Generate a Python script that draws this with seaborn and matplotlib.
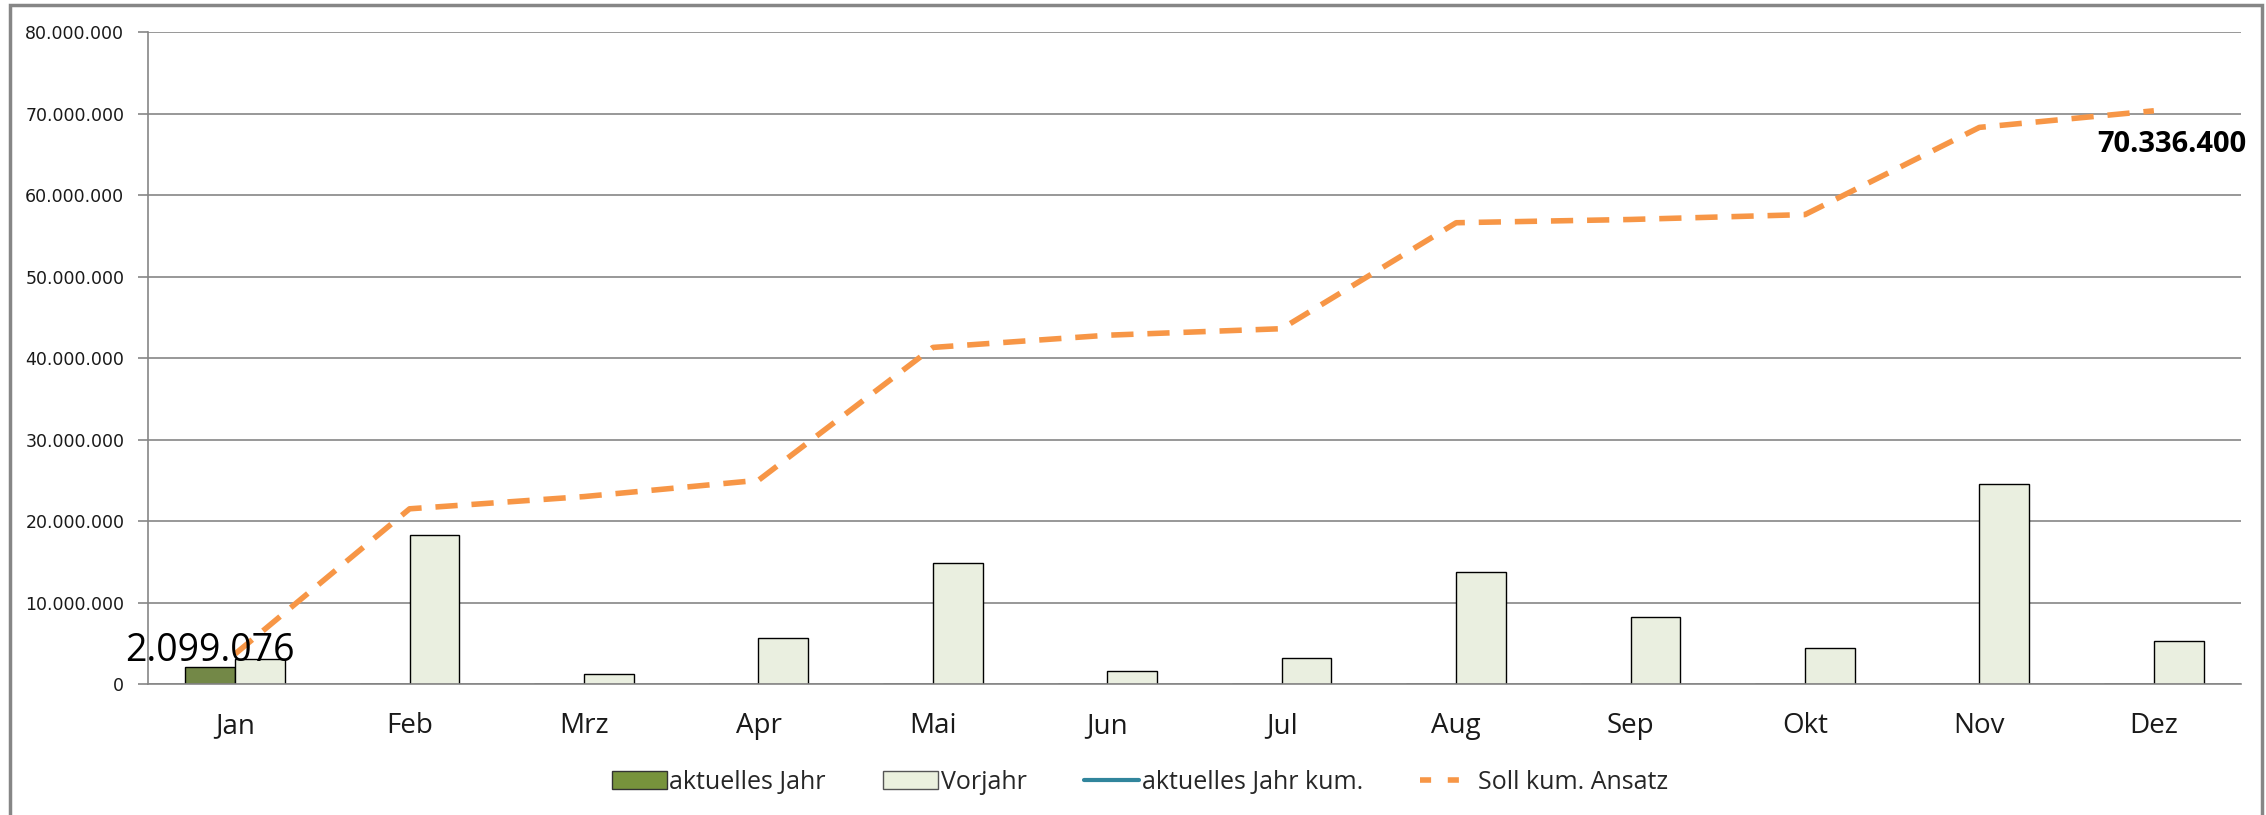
import numpy as np
import pandas as pd
import matplotlib.pyplot as plt
import matplotlib.ticker as mticker
from matplotlib.patches import Patch, Rectangle
from matplotlib.lines import Line2D
import seaborn as sns

# Daten
monate = ['Jan', 'Feb', 'Mrz', 'Apr', 'Mai', 'Jun', 'Jul', 'Aug', 'Sep', 'Okt', 'Nov', 'Dez']
aktuelles_jahr = [2099076, 0, 0, 0, 0, 0, 0, 0, 0, 0, 0, 0]
vorjahr = [3100000, 18300000, 1250000, 5700000, 14900000, 1600000, 3200000,
           13800000, 8200000, 4400000, 24500000, 5300000]
aktuelles_jahr_kum = [2099076]
soll_kum = [3700000, 21500000, 23000000, 25000000, 41300000, 42800000, 43600000,
            56600000, 57000000, 57600000, 68300000, 70336400]

serien = ['aktuelles Jahr', 'Vorjahr']
farben = {'aktuelles Jahr': '#77933C', 'Vorjahr': '#EBF1DE'}

df = pd.DataFrame({
    'Monat': monate * 2,
    'Serie': ['aktuelles Jahr'] * 12 + ['Vorjahr'] * 12,
    'Wert': aktuelles_jahr + vorjahr,
})

sns.set_style('white')
plt.rcParams['font.family'] = ['Open Sans', 'DejaVu Sans']

fig = plt.figure(figsize=(22.66, 8.15), dpi=100)
ax = fig.add_axes([0.0653, 0.1607, 0.9237, 0.80])

sns.barplot(data=df, x='Monat', y='Wert', hue='Serie', order=monate, hue_order=serien,
            palette=farben, width=0.57, edgecolor='black', linewidth=1,
            legend=False, ax=ax)

x = np.arange(len(monate))
sns.lineplot(x=x, y=soll_kum, color='#F79646', linewidth=4, ax=ax)
ax.lines[-1].set_dashes([4, 2.5])
sns.lineplot(x=x[:len(aktuelles_jahr_kum)], y=aktuelles_jahr_kum, color='#31859C',
             linewidth=3, ax=ax)

# Beschriftungen
ax.annotate('2.099.076', xy=(x[0] - 0.143, aktuelles_jahr[0]), xytext=(0, -2),
            textcoords='offset points', ha='center', va='bottom',
            fontsize=27, color='black')
ax.annotate('70.336.400', xy=(x[-1], soll_kum[-1]), xytext=(67, -24),
            textcoords='offset points', ha='right', va='center',
            fontsize=21, fontweight='bold', color='black')

ax.set_xlim(-0.5, 11.5)
ax.set_ylim(0, 80000000)
ax.yaxis.set_major_locator(mticker.MultipleLocator(10000000))
ax.yaxis.set_major_formatter(mticker.FuncFormatter(lambda v, p: f'{int(v):,}'.replace(',', '.')))
ax.set_xlabel('')
ax.set_ylabel('')

ax.grid(axis='y', color='#868686', linewidth=1.2)
ax.set_axisbelow(True)
for s in ['top', 'right']:
    ax.spines[s].set_visible(False)
for s in ['left', 'bottom']:
    ax.spines[s].set_color('#868686')
    ax.spines[s].set_linewidth(1.2)

ax.set_xticks(x)
ax.set_xticklabels(monate)
ax.set_xticks(np.arange(-0.5, 12, 1), minor=True)
ax.tick_params(axis='x', which='major', length=0, pad=20, labelsize=20, labelcolor='#1a1a1a')
ax.tick_params(axis='x', which='minor', length=8, color='#868686', width=1.2, direction='out')
ax.tick_params(axis='y', length=7, color='#868686', width=1.2, direction='out', left=True,
               labelsize=12.5, labelcolor='#1a1a1a', pad=10)
for lab in ax.get_yticklabels():
    lab.set_family('DejaVu Sans')

handles = [
    Patch(facecolor=farben['aktuelles Jahr'], edgecolor='#333333'),
    Patch(facecolor=farben['Vorjahr'], edgecolor='#555555'),
    Line2D([], [], color='#31859C', linewidth=3),
    Line2D([], [], color='#F79646', linewidth=4, dashes=[2, 3]),
]
fig.legend(handles, ['aktuelles Jahr', 'Vorjahr', 'aktuelles Jahr kum.', 'Soll kum. Ansatz'],
           loc='center', bbox_to_anchor=(0.503, 0.04), ncol=4, frameon=False,
           fontsize=18, handlelength=2.2, handletextpad=0.1, columnspacing=2.3)

# Rahmen
fig.patches.append(Rectangle((0.0044, -0.05), 0.9937, 1.044, transform=fig.transFigure,
                             fill=False, edgecolor='#868686', linewidth=2.5))

fig.savefig('out.png', dpi=100)
